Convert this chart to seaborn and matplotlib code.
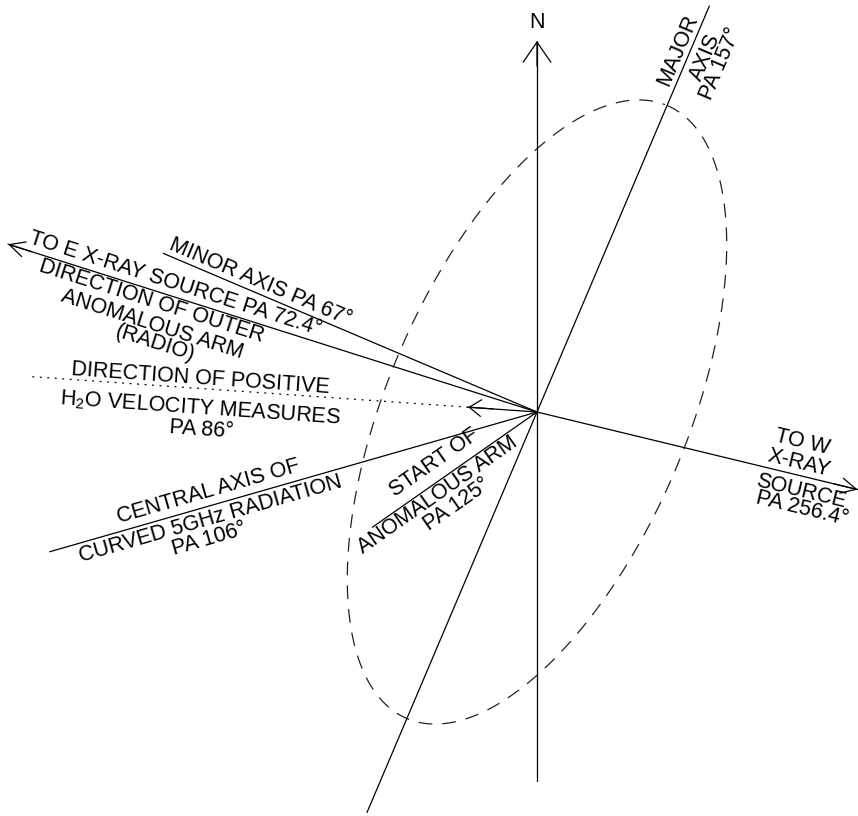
import numpy as np
import pandas as pd
import seaborn as sns
import matplotlib.pyplot as plt

# position angles (deg, measured N through E) of the directions drawn from the source
ray_names = ['N', 'S', 'major_n', 'major_s', 'minor', 'xray_e', 'xray_w',
             'h2o', 'h2o_shaft', 'central', 'anomalous']
ray_pa = [0, 180, 337, 157, 67, 72.4, 256.4, 86, 86, 106, 125]
ray_start = [0, 0, 0, 0, 0, 0, 0, 69, 0, 0, 0]
ray_end = [371, 369, 441, 435, 406, 555, 330, 508, 69, 507, 201]
ray_kind = ['solid'] * 7 + ['dotted'] + ['solid'] * 3

# dashed ellipse of the source (major axis PA 157, minor PA 67)
ell_pa = 157
ell_a = 333
ell_b = 150

# rays that end in an arrow head
arrow_rays = ['N', 'xray_e', 'xray_w', 'h2o']

# labels and the PA of the direction they are written along (None = horizontal)
label_text = ['N', 'MAJOR', 'AXIS', 'PA 157°',
              'MINOR AXIS PA 67°', 'TO E X-RAY SOURCE PA 72.4°',
              'DIRECTION OF OUTER', 'ANOMALOUS ARM', '(RADIO)',
              'DIRECTION OF POSITIVE', r'H$_{\mathregular{2}}$O VELOCITY MEASURES', 'PA 86°',
              'CENTRAL AXIS OF', 'CURVED 5GHz RADIATION', 'PA 106°',
              'START OF', 'ANOMALOUS ARM', 'PA 125°',
              'TO W', 'X-RAY', 'SOURCE', 'PA 256.4°']
label_pa = [None, 157, 157, 157, 67, 72.4, 72.4, 72.4, 72.4, 86, 86, 86,
            106, 106, 106, 125, 125, 125, 256.4, 256.4, 256.4, 256.4]

# ---- layout (pixel space of the drawing) ----
W, H = 858, 816
cx, cy = 537, 412
label_xy = [(537, 28), (683, 52), (711, 59), (726, 66),
            (258, 287), (174, 289),
            (150, 306), (150, 330), (153, 349),
            (200, 384), (200, 414), (201, 435),
            (210, 497), (212, 524), (211, 544),
            (438, 467), (441, 500), (460, 509),
            (801, 448), (798, 469), (800, 497), (801, 514)]
head_size = {'N': (1.45, 1.0), 'xray_e': (1.1, 0.55),
             'xray_w': (1.1, 0.55), 'h2o': (0.85, 0.6)}


def point(pa, r):
    t = np.radians(pa)
    return cx - r * np.sin(t), cy - r * np.cos(t)


rows = []
for name, pa, r0, r1, kind in zip(ray_names, ray_pa, ray_start, ray_end, ray_kind):
    for r in (r0, r1):
        x, y = point(pa, r)
        rows.append({'ray': name, 'kind': kind, 'x': x, 'y': y})
rays = pd.DataFrame(rows)

t = np.linspace(0, 2 * np.pi, 400)
ux, uy = point(ell_pa + 180, 1)
vx, vy = point(ell_pa + 90, 1)
ellipse = pd.DataFrame({
    'x': cx + ell_a * np.cos(t) * (ux - cx) + ell_b * np.sin(t) * (vx - cx),
    'y': cy + ell_a * np.cos(t) * (uy - cy) + ell_b * np.sin(t) * (vy - cy),
})

sns.set_theme(style='white')
plt.rcParams['font.family'] = ['Liberation Sans', 'DejaVu Sans']
plt.rcParams['mathtext.fontset'] = 'custom'
plt.rcParams['mathtext.rm'] = 'Liberation Sans'

fig = plt.figure(figsize=(W / 100, H / 100), dpi=100)
ax = fig.add_axes([0, 0, 1, 1])

sns.lineplot(data=rays, x='x', y='y', units='ray', estimator=None, style='kind',
             dashes={'solid': '', 'dotted': (1.5, 4.5)}, color='black',
             linewidth=0.9, sort=False, legend=False, ax=ax)
sns.lineplot(data=ellipse, x='x', y='y', sort=False, color='#222222',
             linewidth=0.9, linestyle=(0, (11, 8)), ax=ax)

# open arrow heads
for name in arrow_rays:
    i = ray_names.index(name)
    r_tip = ray_end[i] if ray_start[i] == 0 else ray_start[i]
    hl, hw = head_size[name]
    ax.annotate('', xy=point(ray_pa[i], r_tip), xytext=point(ray_pa[i], r_tip - 25),
                arrowprops=dict(arrowstyle=f'->,head_length={hl},head_width={hw}',
                                lw=0.9, color='black', mutation_scale=10,
                                shrinkA=0, shrinkB=0))

for txt, pa, (x, y) in zip(label_text, label_pa, label_xy):
    rot = 0 if pa is None else (pa - 90 if pa <= 180 else pa - 270)
    ax.text(x, y, txt, rotation=rot, rotation_mode='anchor', ha='center',
            va='baseline', fontsize=15.5, color='black')

ax.set_xlim(0, W)
ax.set_ylim(H, 0)
ax.axis('off')
fig.savefig('out.png', dpi=100, facecolor='white')
